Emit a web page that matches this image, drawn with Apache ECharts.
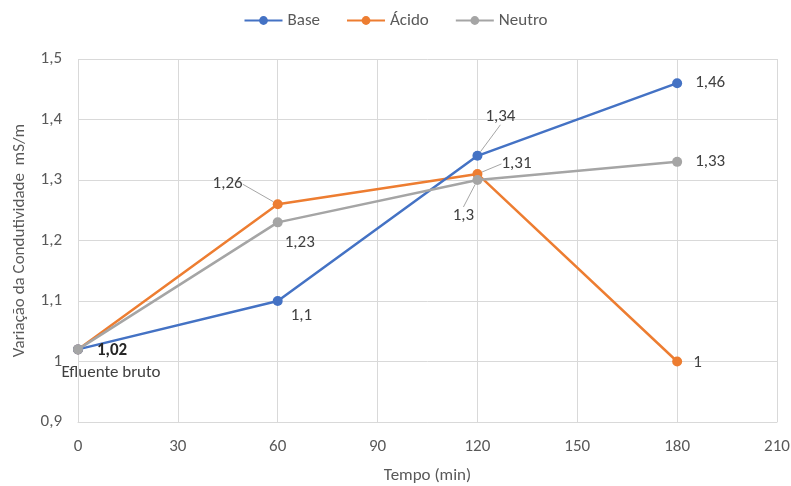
<!DOCTYPE html>
<html>
<head>
<meta charset="utf-8">
<script src="https://cdn.jsdelivr.net/npm/echarts@6/dist/echarts.min.js"></script>
<style>
  html, body { margin: 0; padding: 0; background: #fff; }
  #chart { width: 791px; height: 486px; }
</style>
</head>
<body>
<div id="chart"></div>
<script>
// dados
const tempos = [0, 60, 120, 180];
const base = [1.02, 1.1, 1.34, 1.46];
const acido = [1.02, 1.26, 1.31, 1];
const neutro = [1.02, 1.23, 1.3, 1.33];
const xTicks = [0, 30, 60, 90, 120, 150, 180, 210];
const yTicks = [0.9, 1.0, 1.1, 1.2, 1.3, 1.4, 1.5];

const fonte = "Carlito, 'Liberation Sans', sans-serif";
const virgula = (v) => String(+(+v).toFixed(2)).replace('.', ',');

// posição de cada rótulo: [posição, dx, dy, linha guia]
const rotBase = [['right', 6, 1, false], ['right', 0, 15, false], ['top', 23, -18, true], ['right', 5, 0, false]];
const rotAcido = [['right', 0, 0, false], ['left', -22, -20, true], ['right', 11, -10, true], ['right', 3, 1, false]];
const rotNeutro = [['right', 0, 0, false], ['right', -6, 20, false], ['bottom', -14, 14, true], ['right', 5, 0, false]];

function montar(vals, rots, nome) {
  return vals.map((v, i) => {
    const r = rots[i];
    const item = {
      value: [tempos[i], v],
      label: { show: true, position: r[0], distance: 8 },
      labelLine: { show: r[3], lineStyle: { color: '#a6a6a6', width: 1 } },
      _dx: r[1], _dy: r[2]
    };
    if (i === 0) {
      if (nome === 'Base') {
        item.label = { show: true, position: 'right', distance: 8, fontWeight: 'bold', color: '#262626' };
      } else if (nome === 'Neutro') {
        item.label = { show: true, position: 'bottom', distance: 8, formatter: 'Efluente bruto', color: '#404040' };
        item._dx = 33; item._dy = 2;
      } else {
        item.label = { show: false };
      }
    }
    return item;
  });
}

const series = [
  ['Base', base, rotBase, '#4472C4'],
  ['Ácido', acido, rotAcido, '#ED7D31'],
  ['Neutro', neutro, rotNeutro, '#A5A5A5']
].map(([nome, vals, rots, cor]) => ({
  name: nome,
  type: 'line',
  data: montar(vals, rots, nome),
  symbol: 'circle',
  symbolSize: 10,
  color: cor,
  lineStyle: { width: 2.5, color: cor },
  itemStyle: { color: cor },
  label: {
    fontFamily: fonte,
    fontSize: 17,
    color: '#404040',
    formatter: (p) => virgula(p.value[1])
  },
  labelLine: { show: false },
  labelLayout: function (p) {
    const d = series[p.seriesIndex].data[p.dataIndex];
    return { dx: d._dx, dy: d._dy };
  },
  z: nome === 'Neutro' ? 4 : (nome === 'Ácido' ? 2 : 3)
}));

const chart = echarts.init(document.getElementById('chart'));
chart.setOption({
  animation: false,
  backgroundColor: '#fff',
  textStyle: { fontFamily: fonte },
  legend: {
    top: 7,
    left: 'center',
    itemWidth: 38,
    itemHeight: 11,
    itemGap: 26,
    textStyle: { color: '#595959', fontSize: 17, fontFamily: fonte },
    data: ['Base', 'Ácido', 'Neutro']
  },
  grid: { left: 78, right: 14, top: 59, bottom: 64, outerBoundsMode: 'none', containLabel: false },
  xAxis: {
    type: 'value',
    min: xTicks[0],
    max: xTicks[xTicks.length - 1],
    interval: 30,
    name: 'Tempo (min)',
    nameLocation: 'middle',
    nameGap: 45,
    nameTextStyle: { color: '#595959', fontSize: 17, fontFamily: fonte },
    axisLine: { show: true, lineStyle: { color: '#d9d9d9' } },
    axisTick: { show: false },
    axisLabel: { color: '#595959', fontSize: 17, margin: 16, fontFamily: fonte },
    splitLine: { show: true, lineStyle: { color: '#d9d9d9' } }
  },
  yAxis: {
    type: 'value',
    min: yTicks[0],
    max: yTicks[yTicks.length - 1],
    interval: 0.1,
    name: 'Variação da Condutividade  mS/m',
    nameLocation: 'middle',
    nameGap: 50,
    nameRotate: 90,
    nameTextStyle: { color: '#595959', fontSize: 17, fontFamily: fonte },
    axisLine: { show: false },
    axisTick: { show: false },
    axisLabel: { color: '#595959', fontSize: 17, margin: 16, fontFamily: fonte, formatter: virgula },
    splitLine: { show: true, lineStyle: { color: '#d9d9d9' } }
  },
  series: series
});
</script>
</body>
</html>
